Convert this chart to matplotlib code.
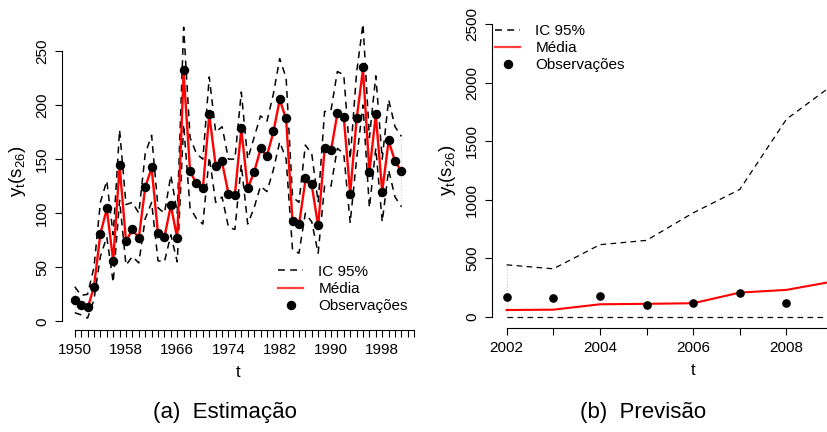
import matplotlib
matplotlib.use("Agg")
import matplotlib.pyplot as plt
from matplotlib.lines import Line2D

plt.rcParams['font.family'] = ['Liberation Sans', 'DejaVu Sans']
plt.rcParams['mathtext.fontset'] = 'custom'
plt.rcParams['mathtext.rm'] = 'Liberation Sans'
plt.rcParams['mathtext.it'] = 'Liberation Sans'

# estimation period (1950-2001)
anos = list(range(1950, 2002))
obs = [20, 15, 13, 32, 81, 105, 56, 145, 74, 85, 77, 124, 143,
       82, 78, 108, 77, 232, 139, 128, 123, 192, 144, 148, 118, 117, 179,
       123, 138, 160, 153, 176, 206, 188, 93, 90, 133, 127, 89, 160, 158,
       193, 189, 118, 188, 235, 138, 192, 120, 168, 148, 139]
media = [18, 15, 12, 32, 81, 104, 56, 144, 74, 85, 77, 124, 142,
         81, 78, 107, 77, 230, 139, 127, 123, 191, 144, 147, 118, 117, 178,
         123, 138, 159, 153, 175, 205, 187, 92, 89, 130, 126, 88, 159, 158,
         192, 189, 118, 187, 233, 138, 191, 120, 167, 148, 139]
sup = [32, 24, 25, 50, 110, 130, 80, 177, 108, 110, 100, 155, 172,
       105, 100, 135, 100, 272, 170, 155, 150, 226, 175, 180, 150, 150, 212,
       150, 170, 190, 185, 210, 243, 225, 115, 110, 163, 155, 110, 194, 195,
       231, 228, 150, 230, 275, 170, 227, 150, 205, 180, 171]
inf = [8, 6, 3, 20, 60, 78, 36, 112, 52, 60, 54, 95, 110,
       56, 55, 80, 55, 182, 105, 95, 90, 152, 110, 115, 87, 85, 145,
       90, 105, 125, 120, 140, 166, 150, 66, 63, 100, 92, 63, 125, 125,
       160, 155, 91, 150, 200, 105, 160, 92, 140, 115, 106]

# forecast period (2002-2009)
anos_p = list(range(2002, 2010))
obs_p = [171, 158, 176, 100, 115, 200, 120]
media_p = [57, 60, 106, 110, 115, 206, 229, 301]
sup_p = [443, 409, 615, 652, 887, 1087, 1687, 1982]
inf_p = [0, 0, 0, 0, 0, 0, 0, 0]

fs = 11
fig = plt.figure(figsize=(8.27, 4.32), dpi=100)
ax1 = fig.add_axes([0.0746, 0.2361, 0.4266, 0.736])
ax2 = fig.add_axes([0.5946, 0.2398, 0.4872, 0.7317])

dash = (0, (4.5, 3.5))
ylab = r'$\mathregular{y_t(s_{26})}$'

# left panel: fitted values
ax1.plot([anos[0], anos[0]], [inf[0], sup[0]], color='#cccccc', lw=0.8, ls=':')
ax1.plot([anos[-1], anos[-1]], [inf[-1], sup[-1]], color='#cccccc', lw=0.8, ls=':')
ax1.plot(anos, sup, color='black', lw=1.1, ls=dash)
ax1.plot(anos, inf, color='black', lw=1.1, ls=dash)
ax1.plot(anos, media, color='red', lw=1.7)
ax1.plot(anos, obs, 'o', color='black', ms=5.8)
ax1.set_xlim(1947.96, 2003.04)
ax1.set_ylim(-8, 286)
ax1.set_xticks(list(range(1950, 2004)))
ax1.set_xticklabels([str(a) if (a - 1950) % 8 == 0 else '' for a in range(1950, 2004)])
ax1.set_yticks([0, 50, 100, 150, 200, 250])
ax1.spines['left'].set_bounds(0, 250)
ax1.spines['bottom'].set_bounds(1950, 2003)
ax1.set_xlabel('t', fontsize=12, labelpad=6)
ax1.set_ylabel(ylab, fontsize=13.5, labelpad=5)

leg_handles = [
    Line2D([], [], color='black', lw=1.1, ls=dash),
    Line2D([], [], color='#ff4040', lw=1.6),
    Line2D([], [], color='black', marker='o', ls='none', ms=5.8),
]
leg_labels = ['IC 95%', 'Média', 'Observações']
ax1.legend(leg_handles, leg_labels, loc='upper left', bbox_to_anchor=(0.613, 0.205),
           frameon=False, fontsize=fs, handlelength=1.65, handletextpad=1.0,
           labelspacing=0.2, borderpad=0, borderaxespad=0)

# right panel: forecasts
ax2.plot([anos_p[0], anos_p[0]], [inf_p[0], sup_p[0]], color='#cccccc', lw=0.8, ls=':')
ax2.plot(anos_p, sup_p, color='black', lw=0.9, ls=dash)
ax2.plot(anos_p, inf_p, color='black', lw=0.9, ls=dash)
ax2.plot(anos_p, media_p, color='red', lw=1.5)
ax2.plot(anos_p[:len(obs_p)], obs_p, 'o', color='black', ms=5.2)
ax2.set_xlim(2001.68, 2010.32)
ax2.set_ylim(-100, 2600)
ax2.set_xticks(list(range(2002, 2011)))
ax2.set_xticklabels([str(a) if a % 2 == 0 and a < 2010 else '' for a in range(2002, 2011)])
ax2.set_yticks([0, 500, 1000, 1500, 2000, 2500])
ax2.spines['left'].set_bounds(0, 2500)
ax2.spines['bottom'].set_bounds(2002, 2010)
ax2.set_xlabel('t', fontsize=12, labelpad=6)
ax2.set_ylabel(ylab, fontsize=13.5, labelpad=5)

ax2.legend(leg_handles, leg_labels, loc='upper left', bbox_to_anchor=(0.008, 0.963),
           frameon=False, fontsize=fs, handlelength=1.65, handletextpad=1.0,
           labelspacing=0.2, borderpad=0, borderaxespad=0)

for ax in (ax1, ax2):
    ax.spines['top'].set_visible(False)
    ax.spines['right'].set_visible(False)
    ax.tick_params(labelsize=fs, length=5, width=0.8, pad=4)
    for lab in ax.get_yticklabels():
        lab.set_rotation(90)
        lab.set_va('center')

fig.text(0.272, 0.044, '(a)  Estimação', fontsize=16, ha='center', va='center')
fig.text(0.7775, 0.044, '(b)  Previsão', fontsize=16, ha='center', va='center')

fig.savefig('out.png', dpi=100)
